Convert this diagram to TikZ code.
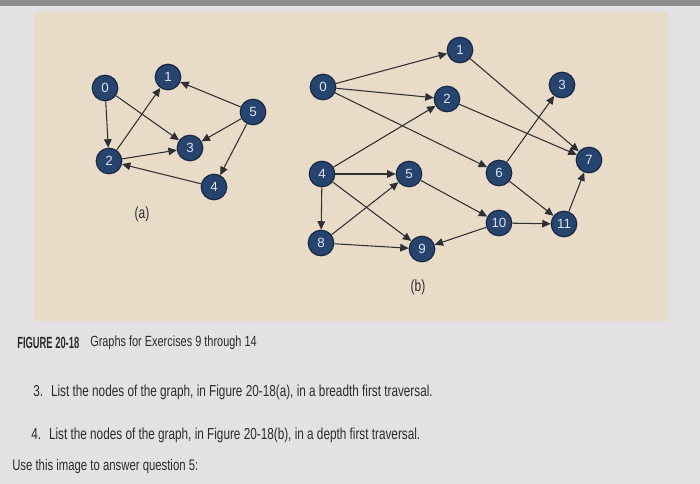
\documentclass[tikz,border=0pt]{standalone}
\usepackage{fontspec}
\setmainfont{Liberation Sans}
\newfontfamily\narrowfont[FakeStretch=0.74]{Liberation Sans}
\newfontfamily\tightfont[FakeStretch=0.58]{Liberation Sans}
\usetikzlibrary{arrows.meta, positioning}
\definecolor{pageGrey}{HTML}{E3E1E3}
\definecolor{panelBeige}{HTML}{E8DCC9}
\definecolor{topGrey}{HTML}{8C8B8D}
\definecolor{nodeBlue}{HTML}{27446F}
\definecolor{nodeRim}{HTML}{18263F}
\definecolor{numWhite}{HTML}{DCE2EC}
\definecolor{edgeGrey}{HTML}{2F2F33}
\definecolor{textGrey}{HTML}{2B2B2E}
\tikzset{
  % graph vertices and arcs
  vtx/.style  = {circle, fill=nodeBlue, draw=nodeRim, line width=0.8pt,
                 minimum size=0.64cm, inner sep=0pt, text=numWhite,
                 font=\fontsize{9.5}{9.5}\selectfont},
  arc/.style  = {-{Triangle[length=2.1mm, width=1.9mm]}, edgeGrey, line width=0.75pt},
  sub/.style  = {font=\narrowfont\fontsize{11.5}{11.5}\selectfont, textGrey},
  txt/.style  = {font=\narrowfont\fontsize{10.5}{12}\selectfont, textGrey, anchor=west, inner sep=0pt},
  qtxt/.style = {txt, font=\narrowfont\fontsize{11.3}{13}\selectfont},
}

\begin{document}
\begin{tikzpicture}[x=0.025cm, y=-0.025cm]
  \useasboundingbox (0,0) rectangle (700,484);
  % screen background and the figure panel
  \fill[pageGrey] (0,0) rectangle (700,484);
  \fill[topGrey] (0,0) rectangle (700,6);
  \fill[panelBeige] (34,12) rectangle (668,321);

  % graph (a)
  \node[vtx] (a0) at (105,88)  {0};
  \node[vtx] (a1) at (168,77)  {1};
  \node[vtx] (a2) at (109,161) {2};
  \node[vtx] (a3) at (190,148) {3};
  \node[vtx] (a4) at (214,187) {4};
  \node[vtx] (a5) at (253,112) {5};
  \node[sub] (acap) at (142,214) {(a)};
  \draw[arc] (a0) -- (a2);
  \draw[arc] (a0) -- (a3);
  \draw[arc] (a2) -- (a1);
  \draw[arc] (a2) -- (a3);
  \draw[arc] (a5) -- (a1);
  \draw[arc] (a5) -- (a3);
  \draw[arc] (a5) -- (a4);
  \draw[arc] (a4) -- (a2);

  % graph (b)
  \node[vtx] (b0)  at (323,87)  {0};
  \node[vtx] (b1)  at (460,50)  {1};
  \node[vtx] (b2)  at (447,99)  {2};
  \node[vtx] (b3)  at (562,85)  {3};
  \node[vtx] (b4)  at (322,174) {4};
  \node[vtx] (b5)  at (409,174) {5};
  \node[vtx] (b6)  at (499,173) {6};
  \node[vtx] (b7)  at (589,160) {7};
  \node[vtx] (b8)  at (321,243) {8};
  \node[vtx] (b9)  at (422,249) {9};
  \node[vtx] (b10) at (499,223) {10};
  \node[vtx] (b11) at (564,224) {11};
  \node[sub] (bcap) at (418,287) {(b)};
  \draw[arc] (b0) -- (b1);
  \draw[arc] (b0) -- (b2);
  \draw[arc] (b0) -- (b6);
  \draw[arc] (b1) -- (b7);
  \draw[arc] (b2) -- (b7);
  \draw[arc] (b4) -- (b2);
  \draw[arc] (b4) -- (b5);
  \draw[arc] (b4) -- (b9);
  \draw[arc] (b4) -- (b8);
  \draw[arc] (b8) -- (b5);
  \draw[arc] (b8) -- (b9);
  \draw[arc] (b5) -- (b10);
  \draw[arc] (b6) -- (b3);
  \draw[arc] (b6) -- (b11);
  \draw[arc] (b10) -- (b11);
  \draw[arc] (b10) -- (b9);
  \draw[arc] (b11) -- (b7);

  % caption and exercise text
  \node[txt, font=\tightfont\bfseries\fontsize{11.5}{12}\selectfont] (figno) at (17,343) {FIGURE 20-18};
  \node[txt] (figcap) at (90,343) {Graphs for Exercises 9 through 14};
  \node[qtxt] (q3) at (33,392) {3.\enspace List the nodes of the graph, in Figure 20-18(a), in a breadth first traversal.};
  \node[qtxt] (q4) at (31,435) {4.\enspace List the nodes of the graph, in Figure 20-18(b), in a depth first traversal.};
  \node[txt, font=\narrowfont\fontsize{10.9}{12}\selectfont] (q5) at (12,467) {Use this image to answer question 5:};
\end{tikzpicture}
\end{document}
